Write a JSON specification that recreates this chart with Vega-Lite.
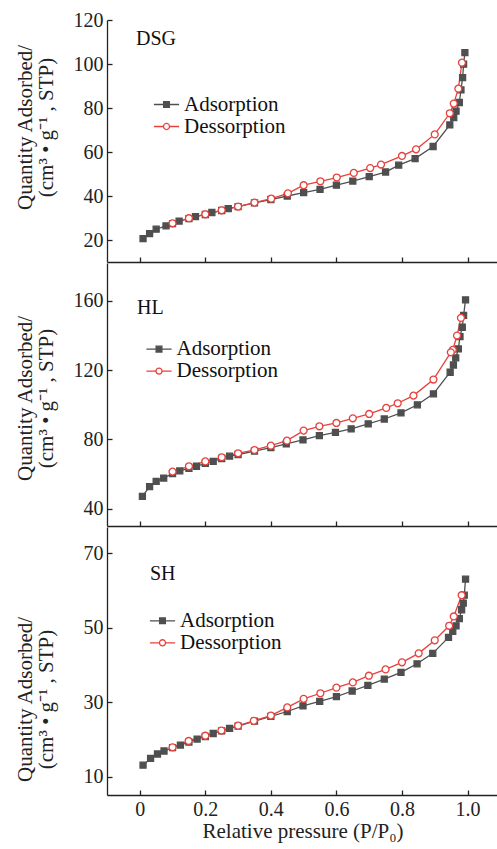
{
  "$schema": "https://vega.github.io/schema/vega-lite/v6.json",
  "padding": {"left": 13, "top": 10, "right": 0, "bottom": 5},
  "background": "white",
  "spacing": 0,
  "datasets": {
    "iso": [
      {"s":"DSG","b":"Adsorption","p":0.01,"q":20.6},{"s":"DSG","b":"Adsorption","p":0.03,"q":22.9},{"s":"DSG","b":"Adsorption","p":0.05,"q":24.9},{"s":"DSG","b":"Adsorption","p":0.08,"q":26.4},{"s":"DSG","b":"Adsorption","p":0.1,"q":27.4},{"s":"DSG","b":"Adsorption","p":0.12,"q":28.6},{"s":"DSG","b":"Adsorption","p":0.15,"q":29.7},{"s":"DSG","b":"Adsorption","p":0.17,"q":30.6},{"s":"DSG","b":"Adsorption","p":0.2,"q":31.6},{"s":"DSG","b":"Adsorption","p":0.22,"q":32.5},{"s":"DSG","b":"Adsorption","p":0.25,"q":33.4},{"s":"DSG","b":"Adsorption","p":0.27,"q":34.3},{"s":"DSG","b":"Adsorption","p":0.3,"q":35.2},{"s":"DSG","b":"Adsorption","p":0.35,"q":36.9},{"s":"DSG","b":"Adsorption","p":0.4,"q":38.4},{"s":"DSG","b":"Adsorption","p":0.45,"q":40.0},{"s":"DSG","b":"Adsorption","p":0.5,"q":41.5},{"s":"DSG","b":"Adsorption","p":0.55,"q":43.0},{"s":"DSG","b":"Adsorption","p":0.6,"q":44.9},{"s":"DSG","b":"Adsorption","p":0.65,"q":46.8},{"s":"DSG","b":"Adsorption","p":0.7,"q":48.8},{"s":"DSG","b":"Adsorption","p":0.75,"q":50.9},{"s":"DSG","b":"Adsorption","p":0.79,"q":54.0},{"s":"DSG","b":"Adsorption","p":0.84,"q":57.0},{"s":"DSG","b":"Adsorption","p":0.895,"q":62.5},{"s":"DSG","b":"Adsorption","p":0.946,"q":72.3},{"s":"DSG","b":"Adsorption","p":0.958,"q":75.6},{"s":"DSG","b":"Adsorption","p":0.965,"q":78.6},{"s":"DSG","b":"Adsorption","p":0.975,"q":82.5},{"s":"DSG","b":"Adsorption","p":0.98,"q":88.2},{"s":"DSG","b":"Adsorption","p":0.985,"q":93.8},{"s":"DSG","b":"Adsorption","p":0.988,"q":99.9},{"s":"DSG","b":"Adsorption","p":0.992,"q":105.2},
      {"s":"HL","b":"Adsorption","p":0.008,"q":47.1},{"s":"HL","b":"Adsorption","p":0.03,"q":52.7},{"s":"HL","b":"Adsorption","p":0.05,"q":55.8},{"s":"HL","b":"Adsorption","p":0.073,"q":57.7},{"s":"HL","b":"Adsorption","p":0.1,"q":60.3},{"s":"HL","b":"Adsorption","p":0.122,"q":61.8},{"s":"HL","b":"Adsorption","p":0.15,"q":63.3},{"s":"HL","b":"Adsorption","p":0.173,"q":64.5},{"s":"HL","b":"Adsorption","p":0.2,"q":66.2},{"s":"HL","b":"Adsorption","p":0.224,"q":67.3},{"s":"HL","b":"Adsorption","p":0.25,"q":69.0},{"s":"HL","b":"Adsorption","p":0.274,"q":70.3},{"s":"HL","b":"Adsorption","p":0.3,"q":71.3},{"s":"HL","b":"Adsorption","p":0.35,"q":73.3},{"s":"HL","b":"Adsorption","p":0.4,"q":75.3},{"s":"HL","b":"Adsorption","p":0.447,"q":77.4},{"s":"HL","b":"Adsorption","p":0.498,"q":79.7},{"s":"HL","b":"Adsorption","p":0.548,"q":82.2},{"s":"HL","b":"Adsorption","p":0.597,"q":84.1},{"s":"HL","b":"Adsorption","p":0.645,"q":86.1},{"s":"HL","b":"Adsorption","p":0.697,"q":89.0},{"s":"HL","b":"Adsorption","p":0.746,"q":91.8},{"s":"HL","b":"Adsorption","p":0.797,"q":95.3},{"s":"HL","b":"Adsorption","p":0.847,"q":100.0},{"s":"HL","b":"Adsorption","p":0.896,"q":106.3},{"s":"HL","b":"Adsorption","p":0.947,"q":118.8},{"s":"HL","b":"Adsorption","p":0.957,"q":123.0},{"s":"HL","b":"Adsorption","p":0.964,"q":127.1},{"s":"HL","b":"Adsorption","p":0.972,"q":132.3},{"s":"HL","b":"Adsorption","p":0.977,"q":139.4},{"s":"HL","b":"Adsorption","p":0.984,"q":144.8},{"s":"HL","b":"Adsorption","p":0.988,"q":151.6},{"s":"HL","b":"Adsorption","p":0.994,"q":160.6},
      {"s":"SH","b":"Adsorption","p":0.01,"q":13.1},{"s":"SH","b":"Adsorption","p":0.033,"q":14.9},{"s":"SH","b":"Adsorption","p":0.054,"q":16.1},{"s":"SH","b":"Adsorption","p":0.074,"q":16.9},{"s":"SH","b":"Adsorption","p":0.1,"q":17.8},{"s":"SH","b":"Adsorption","p":0.124,"q":18.5},{"s":"SH","b":"Adsorption","p":0.15,"q":19.3},{"s":"SH","b":"Adsorption","p":0.175,"q":20.1},{"s":"SH","b":"Adsorption","p":0.2,"q":20.8},{"s":"SH","b":"Adsorption","p":0.224,"q":21.6},{"s":"SH","b":"Adsorption","p":0.25,"q":22.3},{"s":"SH","b":"Adsorption","p":0.274,"q":23.0},{"s":"SH","b":"Adsorption","p":0.3,"q":23.6},{"s":"SH","b":"Adsorption","p":0.35,"q":24.9},{"s":"SH","b":"Adsorption","p":0.4,"q":26.2},{"s":"SH","b":"Adsorption","p":0.45,"q":27.5},{"s":"SH","b":"Adsorption","p":0.498,"q":29.0},{"s":"SH","b":"Adsorption","p":0.549,"q":30.2},{"s":"SH","b":"Adsorption","p":0.6,"q":31.5},{"s":"SH","b":"Adsorption","p":0.648,"q":33.0},{"s":"SH","b":"Adsorption","p":0.696,"q":34.5},{"s":"SH","b":"Adsorption","p":0.746,"q":36.2},{"s":"SH","b":"Adsorption","p":0.797,"q":38.0},{"s":"SH","b":"Adsorption","p":0.846,"q":40.3},{"s":"SH","b":"Adsorption","p":0.894,"q":43.1},{"s":"SH","b":"Adsorption","p":0.942,"q":47.4},{"s":"SH","b":"Adsorption","p":0.955,"q":49.0},{"s":"SH","b":"Adsorption","p":0.965,"q":50.5},{"s":"SH","b":"Adsorption","p":0.975,"q":52.4},{"s":"SH","b":"Adsorption","p":0.982,"q":54.8},{"s":"SH","b":"Adsorption","p":0.987,"q":56.6},{"s":"SH","b":"Adsorption","p":0.99,"q":58.7},{"s":"SH","b":"Adsorption","p":0.994,"q":63.0},
      {"s":"DSG","b":"Dessorption","p":0.983,"q":100.6},{"s":"DSG","b":"Dessorption","p":0.972,"q":88.8},{"s":"DSG","b":"Dessorption","p":0.958,"q":82.0},{"s":"DSG","b":"Dessorption","p":0.946,"q":77.6},{"s":"DSG","b":"Dessorption","p":0.9,"q":68.0},{"s":"DSG","b":"Dessorption","p":0.843,"q":61.2},{"s":"DSG","b":"Dessorption","p":0.8,"q":58.2},{"s":"DSG","b":"Dessorption","p":0.736,"q":54.3},{"s":"DSG","b":"Dessorption","p":0.703,"q":52.7},{"s":"DSG","b":"Dessorption","p":0.653,"q":50.5},{"s":"DSG","b":"Dessorption","p":0.601,"q":48.4},{"s":"DSG","b":"Dessorption","p":0.551,"q":46.7},{"s":"DSG","b":"Dessorption","p":0.5,"q":44.9},{"s":"DSG","b":"Dessorption","p":0.452,"q":41.2},{"s":"DSG","b":"Dessorption","p":0.401,"q":38.8},{"s":"DSG","b":"Dessorption","p":0.35,"q":37.0},{"s":"DSG","b":"Dessorption","p":0.3,"q":35.2},{"s":"DSG","b":"Dessorption","p":0.25,"q":33.5},{"s":"DSG","b":"Dessorption","p":0.2,"q":31.7},{"s":"DSG","b":"Dessorption","p":0.15,"q":29.9},{"s":"DSG","b":"Dessorption","p":0.1,"q":27.6},
      {"s":"HL","b":"Dessorption","p":0.98,"q":150.2},{"s":"HL","b":"Dessorption","p":0.968,"q":140.0},{"s":"HL","b":"Dessorption","p":0.955,"q":131.7},{"s":"HL","b":"Dessorption","p":0.949,"q":130.3},{"s":"HL","b":"Dessorption","p":0.896,"q":114.6},{"s":"HL","b":"Dessorption","p":0.835,"q":105.3},{"s":"HL","b":"Dessorption","p":0.787,"q":100.9},{"s":"HL","b":"Dessorption","p":0.752,"q":98.2},{"s":"HL","b":"Dessorption","p":0.7,"q":94.7},{"s":"HL","b":"Dessorption","p":0.65,"q":92.2},{"s":"HL","b":"Dessorption","p":0.6,"q":89.5},{"s":"HL","b":"Dessorption","p":0.548,"q":87.6},{"s":"HL","b":"Dessorption","p":0.5,"q":85.1},{"s":"HL","b":"Dessorption","p":0.449,"q":79.3},{"s":"HL","b":"Dessorption","p":0.4,"q":76.4},{"s":"HL","b":"Dessorption","p":0.35,"q":73.9},{"s":"HL","b":"Dessorption","p":0.3,"q":72.0},{"s":"HL","b":"Dessorption","p":0.25,"q":69.7},{"s":"HL","b":"Dessorption","p":0.2,"q":67.3},{"s":"HL","b":"Dessorption","p":0.15,"q":64.5},{"s":"HL","b":"Dessorption","p":0.1,"q":61.4},
      {"s":"SH","b":"Dessorption","p":0.982,"q":58.7},{"s":"SH","b":"Dessorption","p":0.958,"q":53.0},{"s":"SH","b":"Dessorption","p":0.944,"q":50.5},{"s":"SH","b":"Dessorption","p":0.9,"q":46.6},{"s":"SH","b":"Dessorption","p":0.851,"q":43.1},{"s":"SH","b":"Dessorption","p":0.8,"q":40.7},{"s":"SH","b":"Dessorption","p":0.75,"q":38.8},{"s":"SH","b":"Dessorption","p":0.699,"q":37.1},{"s":"SH","b":"Dessorption","p":0.65,"q":35.3},{"s":"SH","b":"Dessorption","p":0.6,"q":33.9},{"s":"SH","b":"Dessorption","p":0.551,"q":32.4},{"s":"SH","b":"Dessorption","p":0.5,"q":30.9},{"s":"SH","b":"Dessorption","p":0.45,"q":28.6},{"s":"SH","b":"Dessorption","p":0.4,"q":26.4},{"s":"SH","b":"Dessorption","p":0.348,"q":25.0},{"s":"SH","b":"Dessorption","p":0.3,"q":23.7},{"s":"SH","b":"Dessorption","p":0.249,"q":22.4},{"s":"SH","b":"Dessorption","p":0.2,"q":21.0},{"s":"SH","b":"Dessorption","p":0.149,"q":19.6},{"s":"SH","b":"Dessorption","p":0.1,"q":17.9}
    ]
  },
  "resolve": {"scale": {"color": "independent", "y": "independent"}, "legend": {"color": "independent"}},
  "vconcat": [
    {
      "width": 391, "height": 242,
      "title": {"text": "DSG", "anchor": "start", "frame": "group", "offset": -39, "dx": 29},
      "data": {"name": "iso"},
      "transform": [{"filter": "datum.s === 'DSG'"}],
      "encoding": {
        "x": {"field": "p", "type": "quantitative", "scale": {"domain": [-0.1, 1.093], "nice": false, "zero": false},
              "axis": {"title": null, "values": [0, 0.2, 0.4, 0.6, 0.8, 1.0], "labels": false, "tickSize": -5}},
        "y": {"field": "q", "type": "quantitative", "scale": {"domain": [10, 120], "nice": false, "zero": false},
              "axis": {"values": [20, 40, 60, 80, 100, 120], "tickSize": -5, "labelPadding": 9,
                       "title": ["Quantity Adsorbed/", "(cm³ • g⁻¹ , STP)"], "titleX": -82, "titleY": 107}}
      },
      "layer": [
        {"mark": {"type": "line", "strokeWidth": 1.3},
         "encoding": {"color": {"field": "b", "type": "nominal", "scale": {"domain": ["Adsorption", "Dessorption"], "range": ["#4f4f4f", "#e8413b"]},
           "legend": {"orient": "none", "legendX": 49, "legendY": 74,
             "encode": {"symbols": {"update": {
               "shape": {"signal": "datum.value === 'Adsorption' ? 'M-1.4,0H1.4M-0.32,-0.32H0.32V0.32H-0.32Z' : 'M-1.4,0H-0.34M0.34,0H1.4M0.34,0A0.34,0.34,0,1,1,-0.34,0A0.34,0.34,0,1,1,0.34,0Z'"},
               "fill": {"signal": "datum.value === 'Adsorption' ? '#4f4f4f' : '#ffffff'"},
               "stroke": {"signal": "datum.value === 'Adsorption' ? '#4f4f4f' : '#e8413b'"},
               "strokeWidth": {"value": 1.3}, "opacity": {"value": 1}}}}}}}},
        {"mark": {"type": "point", "filled": false, "strokeWidth": 1.3, "opacity": 1},
         "encoding": {
           "shape": {"field": "b", "type": "nominal", "scale": {"domain": ["Adsorption", "Dessorption"], "range": ["square", "circle"]}, "legend": null},
           "stroke": {"field": "b", "type": "nominal", "scale": {"domain": ["Adsorption", "Dessorption"], "range": ["#4f4f4f", "#e8413b"]}, "legend": null},
           "fill": {"field": "b", "type": "nominal", "scale": {"domain": ["Adsorption", "Dessorption"], "range": ["#4f4f4f", "#ffffff"]}, "legend": null},
           "size": {"field": "b", "type": "nominal", "scale": {"domain": ["Adsorption", "Dessorption"], "range": [36, 48]}, "legend": null}
         }},
        {"data": {"values": [{}]}, "mark": {"type": "rule", "color": "#222222", "strokeWidth": 1.3}, "encoding": {"y": {"datum": 120}}}
      ]
    },
    {
      "width": 391, "height": 263,
      "title": {"text": "HL", "anchor": "start", "frame": "group", "offset": -55, "dx": 30},
      "data": {"name": "iso"},
      "transform": [{"filter": "datum.s === 'HL'"}],
      "encoding": {
        "x": {"field": "p", "type": "quantitative", "scale": {"domain": [-0.1, 1.093], "nice": false, "zero": false},
              "axis": {"title": null, "values": [0, 0.2, 0.4, 0.6, 0.8, 1.0], "labels": false, "tickSize": -5}},
        "y": {"field": "q", "type": "quantitative", "scale": {"domain": [30, 181.9], "nice": false, "zero": false},
              "axis": {"values": [40, 80, 120, 160], "tickSize": -5, "labelPadding": 9,
                       "title": ["Quantity Adsorbed/", "(cm³ • g⁻¹ , STP)"], "titleX": -82, "titleY": 135}}
      },
      "layer": [
        {"mark": {"type": "line", "strokeWidth": 1.3},
         "encoding": {"color": {"field": "b", "type": "nominal", "scale": {"domain": ["Adsorption", "Dessorption"], "range": ["#4f4f4f", "#e8413b"]},
           "legend": {"orient": "none", "legendX": 41.5, "legendY": 75.6,
             "encode": {"symbols": {"update": {
               "shape": {"signal": "datum.value === 'Adsorption' ? 'M-1.4,0H1.4M-0.32,-0.32H0.32V0.32H-0.32Z' : 'M-1.4,0H-0.34M0.34,0H1.4M0.34,0A0.34,0.34,0,1,1,-0.34,0A0.34,0.34,0,1,1,0.34,0Z'"},
               "fill": {"signal": "datum.value === 'Adsorption' ? '#4f4f4f' : '#ffffff'"},
               "stroke": {"signal": "datum.value === 'Adsorption' ? '#4f4f4f' : '#e8413b'"},
               "strokeWidth": {"value": 1.3}, "opacity": {"value": 1}}}}}}}},
        {"mark": {"type": "point", "filled": false, "strokeWidth": 1.3, "opacity": 1},
         "encoding": {
           "shape": {"field": "b", "type": "nominal", "scale": {"domain": ["Adsorption", "Dessorption"], "range": ["square", "circle"]}, "legend": null},
           "stroke": {"field": "b", "type": "nominal", "scale": {"domain": ["Adsorption", "Dessorption"], "range": ["#4f4f4f", "#e8413b"]}, "legend": null},
           "fill": {"field": "b", "type": "nominal", "scale": {"domain": ["Adsorption", "Dessorption"], "range": ["#4f4f4f", "#ffffff"]}, "legend": null},
           "size": {"field": "b", "type": "nominal", "scale": {"domain": ["Adsorption", "Dessorption"], "range": [36, 48]}, "legend": null}
         }},
        {"data": {"values": [{}]}, "mark": {"type": "rule", "color": "#222222", "strokeWidth": 1.3}, "encoding": {"y": {"datum": 170}}}
      ]
    },
    {
      "width": 391, "height": 268,
      "title": {"text": "SH", "anchor": "start", "frame": "group", "offset": -57, "dx": 43},
      "data": {"name": "iso"},
      "transform": [{"filter": "datum.s === 'SH'"}],
      "encoding": {
        "x": {"field": "p", "type": "quantitative", "scale": {"domain": [-0.1, 1.093], "nice": false, "zero": false},
              "axis": {"title": "Relative pressure (P/P₀)", "values": [0, 0.2, 0.4, 0.6, 0.8, 1.0], "tickSize": -5, "labelPadding": 9,
                       "labelExpr": "datum.value === 0 ? '0' : format(datum.value, '.1f')", "titleY": 25, "titleBaseline": "top"}},
        "y": {"field": "q", "type": "quantitative", "scale": {"domain": [5.1, 77], "nice": false, "zero": false},
              "axis": {"values": [10, 30, 50, 70], "tickSize": -5, "labelPadding": 9,
                       "title": ["Quantity Adsorbed/", "(cm³ • g⁻¹ , STP)"], "titleX": -82, "titleY": 172}}
      },
      "layer": [
        {"mark": {"type": "line", "strokeWidth": 1.3},
         "encoding": {"color": {"field": "b", "type": "nominal", "scale": {"domain": ["Adsorption", "Dessorption"], "range": ["#4f4f4f", "#e8413b"]},
           "legend": {"orient": "none", "legendX": 45, "legendY": 83.3,
             "encode": {"symbols": {"update": {
               "shape": {"signal": "datum.value === 'Adsorption' ? 'M-1.4,0H1.4M-0.32,-0.32H0.32V0.32H-0.32Z' : 'M-1.4,0H-0.34M0.34,0H1.4M0.34,0A0.34,0.34,0,1,1,-0.34,0A0.34,0.34,0,1,1,0.34,0Z'"},
               "fill": {"signal": "datum.value === 'Adsorption' ? '#4f4f4f' : '#ffffff'"},
               "stroke": {"signal": "datum.value === 'Adsorption' ? '#4f4f4f' : '#e8413b'"},
               "strokeWidth": {"value": 1.3}, "opacity": {"value": 1}}}}}}}},
        {"mark": {"type": "point", "filled": false, "strokeWidth": 1.3, "opacity": 1},
         "encoding": {
           "shape": {"field": "b", "type": "nominal", "scale": {"domain": ["Adsorption", "Dessorption"], "range": ["square", "circle"]}, "legend": null},
           "stroke": {"field": "b", "type": "nominal", "scale": {"domain": ["Adsorption", "Dessorption"], "range": ["#4f4f4f", "#e8413b"]}, "legend": null},
           "fill": {"field": "b", "type": "nominal", "scale": {"domain": ["Adsorption", "Dessorption"], "range": ["#4f4f4f", "#ffffff"]}, "legend": null},
           "size": {"field": "b", "type": "nominal", "scale": {"domain": ["Adsorption", "Dessorption"], "range": [36, 48]}, "legend": null}
         }},
        {"data": {"values": [{}]}, "mark": {"type": "rule", "color": "#222222", "strokeWidth": 1.3}, "encoding": {"y": {"datum": 70}}}
      ]
    }
  ],
  "config": {
    "view": {"stroke": null},
    "font": "Liberation Serif",
    "axis": {
      "grid": false, "domainColor": "#222222", "domainWidth": 1.3, "tickColor": "#222222", "tickWidth": 1.3,
      "labelFont": "Liberation Serif", "labelFontSize": 20, "labelColor": "#222222",
      "titleFont": "Liberation Serif", "titleFontSize": 21, "titleFontWeight": "normal", "titleColor": "#222222"
    },
    "axisY": {"titleAngle": -90, "titleBaseline": "middle", "titleAlign": "center", "titleLineHeight": 21},
    "title": {"font": "Liberation Serif", "fontSize": 20, "fontWeight": "normal", "color": "#111111", "baseline": "alphabetic"},
    "legend": {
      "title": null, "padding": 0, "labelFont": "Liberation Serif", "labelFontSize": 21, "labelColor": "#111111",
      "labelOffset": 7, "rowPadding": 0, "symbolSize": 324, "symbolStrokeWidth": 1.3, "labelLimit": 300
    }
  }
}
